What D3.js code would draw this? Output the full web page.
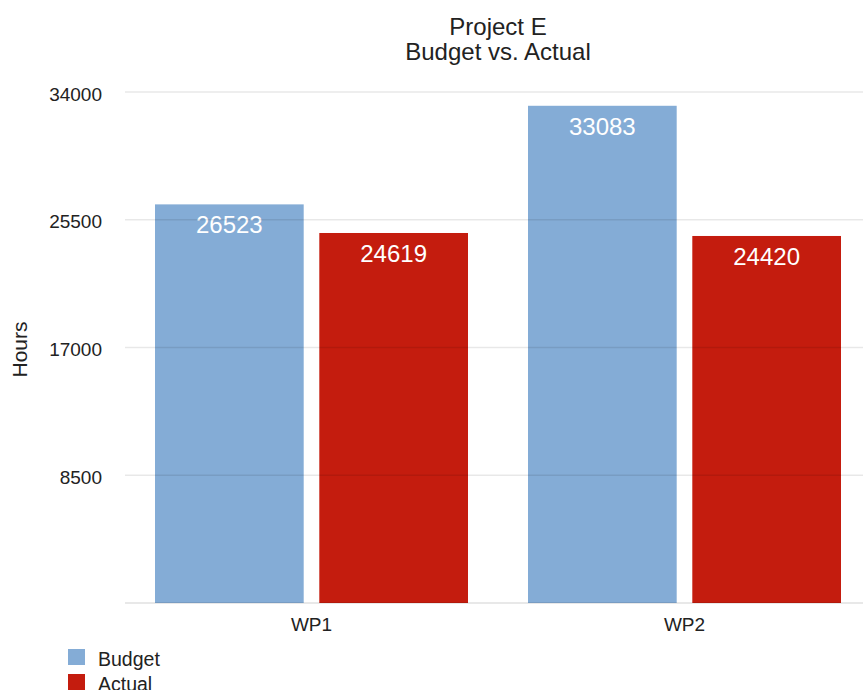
<!DOCTYPE html>
<html>
<head>
<meta charset="utf-8">
<script src="https://cdn.jsdelivr.net/npm/d3@7"></script>
<style>
  html, body { margin: 0; padding: 0; background: #fff; }
  svg { display: block; font-family: "Liberation Sans", Arial, Helvetica, sans-serif; }
</style>
</head>
<body>
<svg id="chart" width="863" height="690"></svg>
<script>
// Hours per work package
const categories = ["WP1", "WP2"];
const seriesNames = ["Budget", "Actual"];
const budget = [26523, 33083];
const actual = [24619, 24420];
const yTicks = [8500, 17000, 25500, 34000];
const colors = ["#84acd6", "#c41c0e"];

const svg = d3.select("#chart");
const W = 863, H = 690;
const plotLeft = 125, plotTop = 92, plotBottom = 603;

const y = d3.scaleLinear().domain([0, 34000]).range([plotBottom, plotTop]);
const x0 = d3.scaleBand().domain(categories).range([plotLeft, plotLeft + 746]).paddingOuter(0).paddingInner(0);
const groupPad = 30;
const x1 = d3.scaleBand().domain(seriesNames)
  .range([0, x0.bandwidth() - 2 * groupPad]).paddingInner(0.095);

const rows = categories.map((c, i) => ({ cat: c, values: [budget[i], actual[i]] }));

// bars with value labels
const g = svg.append("g");
rows.forEach(r => {
  r.values.forEach((v, j) => {
    const bx = x0(r.cat) + groupPad + x1(seriesNames[j]);
    g.append("rect")
      .attr("x", bx)
      .attr("y", y(v))
      .attr("width", x1.bandwidth())
      .attr("height", y(0) - y(v))
      .attr("fill", colors[j]);
    g.append("text")
      .attr("x", bx + x1.bandwidth() / 2)
      .attr("y", y(v) + 29)
      .attr("text-anchor", "middle")
      .attr("fill", "#ffffff")
      .attr("font-size", 24)
      .text(v);
  });
});

// horizontal grid lines, drawn over the bars
svg.append("g").selectAll("line").data(yTicks).join("line")
  .attr("x1", plotLeft).attr("x2", W)
  .attr("y1", d => y(d)).attr("y2", d => y(d))
  .attr("stroke", "#000").attr("stroke-opacity", 0.09).attr("stroke-width", 1.5);

// baseline
svg.append("line")
  .attr("x1", plotLeft).attr("x2", W)
  .attr("y1", y(0)).attr("y2", y(0))
  .attr("stroke", "#000").attr("stroke-opacity", 0.12).attr("stroke-width", 1.5);

// y tick labels
svg.append("g").selectAll("text").data(yTicks).join("text")
  .attr("x", 102).attr("y", d => y(d) + 8.5)
  .attr("text-anchor", "end")
  .attr("font-size", 19)
  .attr("fill", "#222")
  .text(d => d);

// x labels
svg.append("g").selectAll("text").data(categories).join("text")
  .attr("x", d => x0(d) + x0.bandwidth() / 2)
  .attr("y", 631)
  .attr("text-anchor", "middle")
  .attr("font-size", 19)
  .attr("fill", "#222")
  .text(d => d);

// y axis title
svg.append("text")
  .attr("transform", "translate(26.5,349.5) rotate(-90)")
  .attr("text-anchor", "middle")
  .attr("font-size", 21)
  .attr("fill", "#222")
  .text("Hours");

// chart title
svg.append("text")
  .attr("x", 498).attr("y", 35)
  .attr("text-anchor", "middle")
  .attr("font-size", 24)
  .attr("fill", "#222")
  .text("Project E");
svg.append("text")
  .attr("x", 498).attr("y", 60)
  .attr("text-anchor", "middle")
  .attr("font-size", 24)
  .attr("fill", "#222")
  .text("Budget vs. Actual");

// legend
const lg = svg.append("g").selectAll("g").data(seriesNames).join("g")
  .attr("transform", (d, i) => `translate(68,${649 + i * 25})`);
lg.append("rect").attr("width", 17).attr("height", 16).attr("fill", (d, i) => colors[i]);
lg.append("text").attr("x", 30).attr("y", 16.5).attr("font-size", 19.5).attr("fill", "#222").text(d => d);
</script>
</body>
</html>
